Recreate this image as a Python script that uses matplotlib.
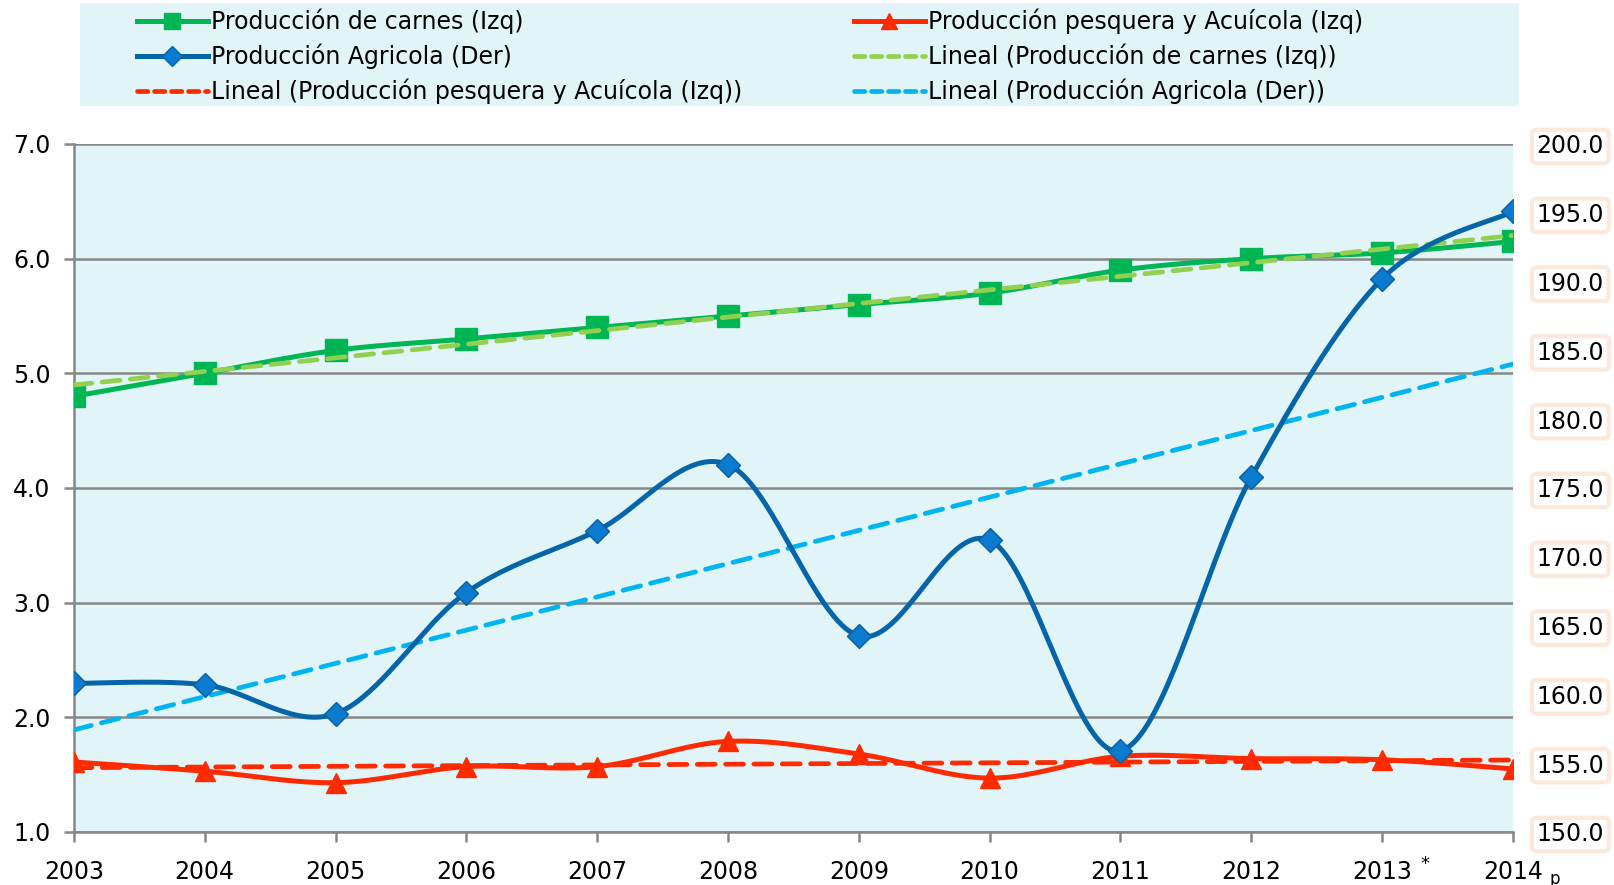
import numpy as np
import matplotlib
matplotlib.use("Agg")
import matplotlib.pyplot as plt
from matplotlib.lines import Line2D
from matplotlib.patches import Rectangle

# data
years = [2003, 2004, 2005, 2006, 2007, 2008, 2009, 2010, 2011, 2012, 2013, 2014]
year_labels = ["2003", "2004", "2005", "2006", "2007", "2008", "2009", "2010",
               "2011", "2012", "2013", "2014"]
carnes = [4.8, 5.0, 5.2, 5.3, 5.4, 5.5, 5.6, 5.7, 5.9, 6.0, 6.05, 6.15]
pesquera = [1.61, 1.53, 1.43, 1.57, 1.57, 1.79, 1.68, 1.47, 1.66, 1.64, 1.63, 1.55]
agricola = [160.8, 160.7, 158.6, 167.4, 171.9, 176.7, 164.25, 171.2, 155.9, 175.8, 190.2, 195.1]

left_ticks = [1.0, 2.0, 3.0, 4.0, 5.0, 6.0, 7.0]
right_ticks = [150, 155, 160, 165, 170, 175, 180, 185, 190, 195, 200]

C_GREEN = "#00B554"
C_LGREEN = "#92D050"
C_RED = "#FF2A00"
C_BLUE = "#0565A8"
C_BLUE_MK = "#0A7BCF"
C_CYAN = "#00B4F0"
BG = "#E1F5F9"

plt.rcParams['font.family'] = ['DejaVu Sans']


def smooth(x, y, n=40):
    # Excel-like smoothed line (Bezier through the points)
    P = np.column_stack([x, y]).astype(float)
    P = np.vstack([P[0], P, P[-1]])
    t = np.linspace(0, 1, n)[:, None]
    out = []
    for i in range(1, len(P) - 2):
        p0, p1, p2, p3 = P[i - 1], P[i], P[i + 1], P[i + 2]
        c1 = p1 + (p2 - p0) / 6
        c2 = p2 - (p3 - p1) / 6
        B = (1 - t) ** 3 * p1 + 3 * (1 - t) ** 2 * t * c1 + 3 * (1 - t) * t ** 2 * c2 + t ** 3 * p2
        out.append(B if i == 1 else B[1:])
    B = np.vstack(out)
    return B[:, 0], B[:, 1]


def trend(x, y):
    k, b = np.polyfit(x, y, 1)
    xx = np.array([x[0], x[-1]], dtype=float)
    return xx, k * xx + b


fig = plt.figure(figsize=(16.14, 8.85), dpi=100)
ax = fig.add_axes([0.0458, 0.0599, 0.8916, 0.7774])
ax2 = ax.twinx()

ax.set_facecolor(BG)
ax2.patch.set_visible(False)
ax.set_zorder(1)
ax2.set_zorder(2)

x = np.array(years, dtype=float)
dash = (0, (3.8, 2.2))

# left axis series
tx, ty = trend(x, carnes)
ax.plot(tx, ty, color=C_LGREEN, lw=3.4, ls=dash, dash_capstyle='round', zorder=4)
sx, sy = smooth(x, carnes)
ax.plot(sx, sy, color=C_GREEN, lw=3.6, zorder=3)
ax.plot(x, carnes, ls='none', marker='s', ms=15.5, color=C_GREEN, zorder=3)

tx, ty = trend(x, pesquera)
ax.plot(tx, ty, color=C_RED, lw=3.4, ls=dash, dash_capstyle='round', zorder=3)
sx, sy = smooth(x, pesquera)
ax.plot(sx, sy, color=C_RED, lw=3.6, zorder=3)
ax.plot(x, pesquera, ls='none', marker='^', ms=15, color=C_RED, zorder=3)

# right axis series
tx, ty = trend(x, agricola)
ax2.plot(tx, ty, color=C_CYAN, lw=3.4, ls=dash, dash_capstyle='round', zorder=2)
sx, sy = smooth(x, agricola)
ax2.plot(sx, sy, color=C_BLUE, lw=3.6, zorder=3)
ax2.plot(x, agricola, ls='none', marker='D', ms=12, color=C_BLUE_MK,
         mec="#0A5E9C", mew=1, zorder=4)

ax.set_xlim(2003, 2014)
ax.set_ylim(1, 7)
ax2.set_ylim(150, 200)
ax.set_yticks(left_ticks)
ax.set_yticklabels(["%.1f" % v for v in left_ticks])
ax2.set_yticks(right_ticks)
ax2.set_yticklabels(["%.1f" % v for v in right_ticks])
ax.set_xticks(years)
ax.set_xticklabels(year_labels)

ax.grid(axis='y', color='#878787', lw=1.8)
ax.set_axisbelow(True)
for s in ['top', 'right']:
    ax.spines[s].set_visible(False)
for s in ['top', 'right', 'left', 'bottom']:
    ax2.spines[s].set_visible(False)
ax.spines['left'].set_color('#878787')
ax.spines['bottom'].set_color('#878787')
ax.spines['left'].set_linewidth(1.8)
ax.spines['bottom'].set_linewidth(1.8)
ax.tick_params(axis='both', colors='#878787', width=1.8, length=7, labelsize=17,
               labelcolor='black')
ax.tick_params(axis='y', pad=10)
ax.tick_params(axis='x', pad=13)
ax2.tick_params(axis='y', length=0, labelsize=17, pad=17)
for lab in ax2.get_yticklabels():
    lab.set_bbox(dict(facecolor='white', edgecolor='#FCE9DC', lw=3,
                      boxstyle='round,pad=0.2'))

# "*" and "p" marks next to the last two years
ax.annotate("*", xy=(2013, 1), xytext=(31, -23), textcoords='offset points',
            fontsize=13, ha='center', va='center', annotation_clip=False)
ax.annotate("p", xy=(2014, 1), xytext=(30, -34), textcoords='offset points',
            fontsize=12, ha='center', va='center', annotation_clip=False)

# legend box
fig.patches.append(Rectangle((80 / 1614, 1 - 106 / 885), (1519 - 80) / 1614, 103 / 885,
                             transform=fig.transFigure, facecolor=BG, edgecolor='none',
                             zorder=0))

h_carnes = Line2D([], [], color=C_GREEN, lw=3.6, marker='s', ms=11)
h_agri = Line2D([], [], color=C_BLUE, lw=3.6, marker='D', ms=10, mfc=C_BLUE_MK)
h_pes_t = Line2D([], [], color=C_RED, lw=3.4, ls=(0, (2.2, 1.4)), dash_capstyle='round')
h_pes = Line2D([], [], color=C_RED, lw=3.6, marker='^', ms=12)
h_car_t = Line2D([], [], color=C_LGREEN, lw=3.4, ls=(0, (2.2, 1.4)), dash_capstyle='round')
h_agri_t = Line2D([], [], color=C_CYAN, lw=3.4, ls=(0, (2.2, 1.4)), dash_capstyle='round')

leg_kw = dict(frameon=False, fontsize=17, handlelength=3.0, handletextpad=0.15,
              labelspacing=0.40, borderaxespad=0, borderpad=0, loc='upper left')
leg1 = fig.legend([h_carnes, h_agri, h_pes_t],
                  ["Producción de carnes (Izq)", "Producción Agricola (Der)",
                   "Lineal (Producción pesquera y Acuícola (Izq))"],
                  bbox_to_anchor=(137 / 1614, 1 - 9 / 885), **leg_kw)
leg2 = fig.legend([h_pes, h_car_t, h_agri_t],
                  ["Producción pesquera y Acuícola (Izq)",
                   "Lineal (Producción de carnes (Izq))",
                   "Lineal (Producción Agricola (Der))"],
                  bbox_to_anchor=(854 / 1614, 1 - 9 / 885), **leg_kw)

fig.savefig("out.png", dpi=100)
